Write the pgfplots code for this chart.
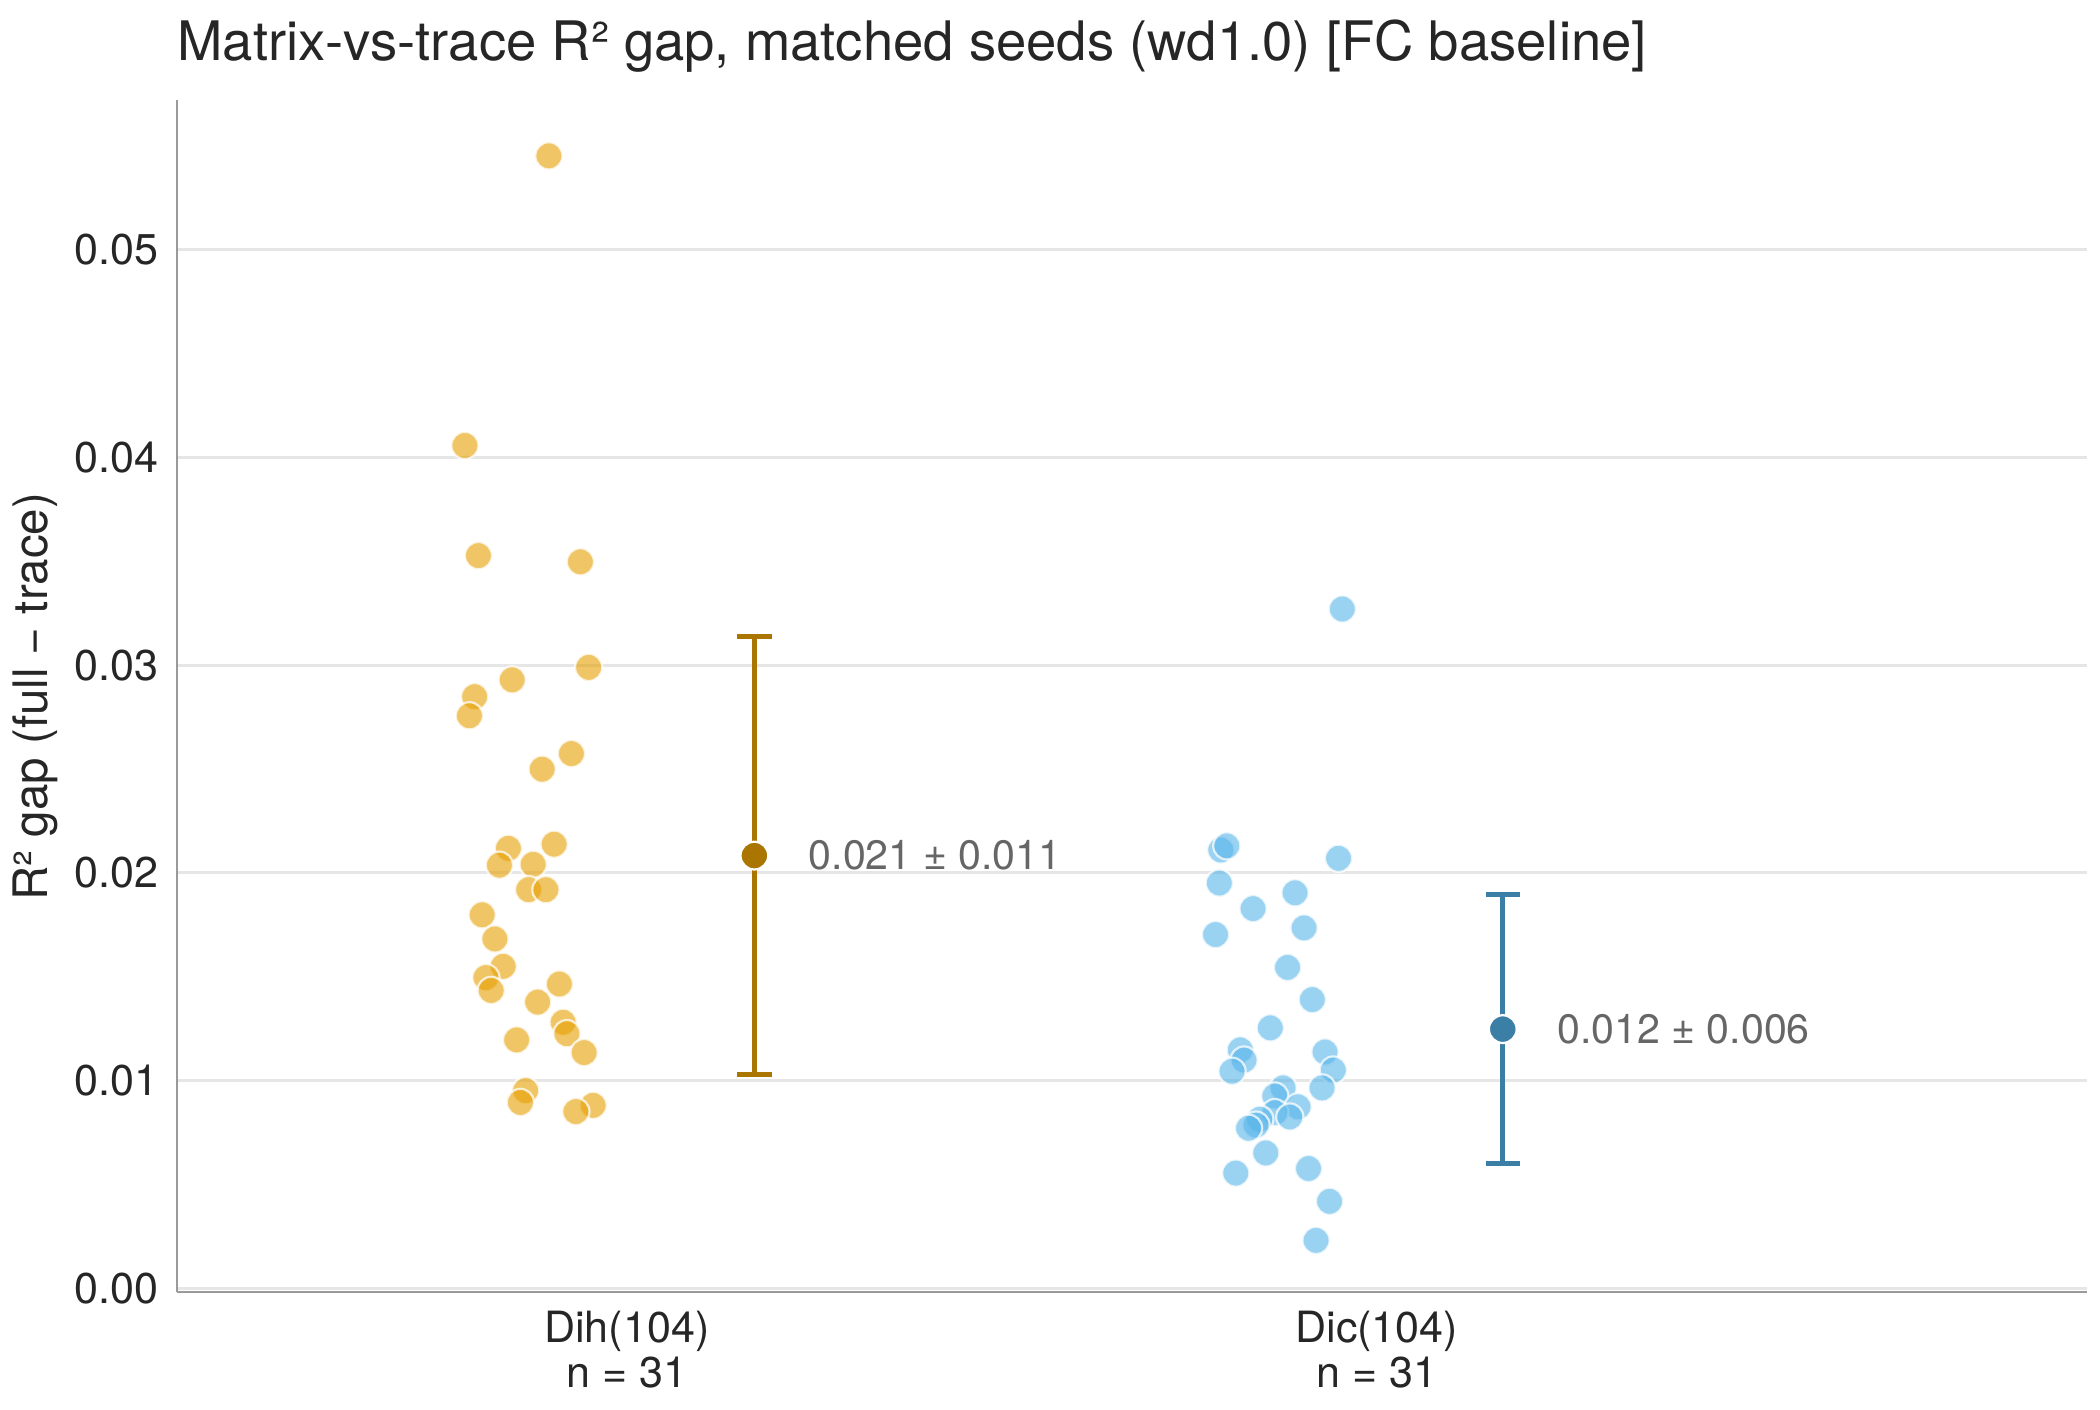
\documentclass[border=0pt]{standalone}
\usepackage{fontspec}
\setmainfont{TeX Gyre Heros}
\usepackage{pgfplots}
\pgfplotsset{compat=1.18}

\definecolor{dihpt}{HTML}{E69F00}
\definecolor{dicpt}{HTML}{56B4E9}
\definecolor{dihmean}{HTML}{AA7500}
\definecolor{dicmean}{HTML}{3B7EA6}
\definecolor{txt}{HTML}{262626}
\definecolor{spine}{HTML}{9A9A9A}
\definecolor{gridc}{HTML}{E6E6E6}
\definecolor{annot}{HTML}{666666}

% per-seed R^2 gap, jittered x positions
\pgfplotstableread{
x y
-0.104 0.05451
-0.216 0.04057
-0.198 0.03527
-0.062 0.03497
-0.051 0.02989
-0.153 0.02929
-0.203 0.02848
-0.210 0.02756
-0.074 0.02574
-0.113 0.02499
-0.097 0.02138
-0.158 0.02118
-0.170 0.02037
-0.125 0.02041
-0.131 0.01919
-0.108 0.01919
-0.193 0.01798
-0.176 0.01682
-0.165 0.01550
-0.188 0.01496
-0.181 0.01434
-0.090 0.01465
-0.119 0.01378
-0.085 0.01281
-0.080 0.01226
-0.147 0.01196
-0.057 0.01135
-0.135 0.00952
-0.142 0.00895
-0.045 0.00881
-0.068 0.00851
}\dihdata

\pgfplotstableread{
x y
0.954 0.03270
0.792 0.02110
0.800 0.02130
0.949 0.02070
0.790 0.01951
0.891 0.01904
0.835 0.01828
0.903 0.01735
0.785 0.01703
0.881 0.01545
0.914 0.01390
0.858 0.01254
0.818 0.01148
0.931 0.01138
0.823 0.01099
0.807 0.01045
0.942 0.01051
0.927 0.00965
0.875 0.00965
0.864 0.00926
0.895 0.00874
0.864 0.00846
0.884 0.00825
0.844 0.00814
0.839 0.00786
0.829 0.00771
0.852 0.00652
0.909 0.00577
0.812 0.00555
0.937 0.00419
0.919 0.00231
}\dicdata

\begin{document}
\begin{tikzpicture}
\useasboundingbox (0,0) rectangle (756pt,507.6pt);
\begin{axis}[
  at={(63.7pt,42.5pt)}, anchor=south west,
  scale only axis,
  width=687.6pt, height=429.1pt,
  xmin=-0.6, xmax=1.947,
  ymin=-0.00017, ymax=0.0572,
  axis lines*=left,
  axis line style={spine, line width=1pt},
  major tick length=0pt,
  xtick={0,1},
  xticklabels={Dih(104)\\n = 31, Dic(104)\\n = 31},
  xticklabel style={align=center, anchor=base, inner sep=0pt, yshift=-34.3pt},
  ytick={0,0.01,0.02,0.03,0.04,0.05},
  yticklabel style={/pgf/number format/fixed, /pgf/number format/fixed zerofill,
    /pgf/number format/precision=2, /pgf/number format/assume math mode=true,
    anchor=east, inner sep=0pt, xshift=-6.4pt},
  scaled y ticks=false,
  ticklabel style={font=\fontsize{15.5}{16}\selectfont, text=txt},
  ymajorgrids,
  grid style={gridc, line width=1.1pt},
  title={Matrix-vs-trace R² gap, matched seeds (wd1.0) [FC baseline]},
  title style={at={(rel axis cs:0,1)}, anchor=base west, inner sep=0pt, yshift=8.3pt,
    font=\fontsize{19.6}{22}\selectfont, text=txt},
  clip=false,
]
\addplot[only marks, mark=*, mark size=4.9pt,
  mark options={fill=dihpt, fill opacity=0.6, draw=white, draw opacity=0.75, line width=0.8pt}]
  table[x=x, y=y] {\dihdata};
\addplot[only marks, mark=*, mark size=4.9pt,
  mark options={fill=dicpt, fill opacity=0.6, draw=white, draw opacity=0.75, line width=0.8pt}]
  table[x=x, y=y] {\dicdata};

% group means with one standard deviation
\addplot[only marks, mark=*, mark size=5pt,
  mark options={fill=dihmean, draw=white, line width=0.8pt},
  error bars/.cd, y dir=both, y explicit,
  error bar style={dihmean, line width=1.8pt},
  error mark options={rotate=90, mark size=6.2pt, line width=1.8pt, dihmean}]
  coordinates {(0.17,0.02083) +- (0,0.01054)};
\addplot[only marks, mark=*, mark size=5pt,
  mark options={fill=dicmean, draw=white, line width=0.8pt},
  error bars/.cd, y dir=both, y explicit,
  error bar style={dicmean, line width=1.8pt},
  error mark options={rotate=90, mark size=6.2pt, line width=1.8pt, dicmean}]
  coordinates {(1.168,0.01248) +- (0,0.00646)};

\node[anchor=west, inner sep=0pt, xshift=19.4pt, text=annot, font=\fontsize{14.8}{16}\selectfont]
  at (axis cs:0.17,0.02083) {0.021 ± 0.011};
\node[anchor=west, inner sep=0pt, xshift=19.4pt, text=annot, font=\fontsize{14.8}{16}\selectfont]
  at (axis cs:1.168,0.01248) {0.012 ± 0.006};
\end{axis}
\node[rotate=90, anchor=base, inner sep=0pt, text=txt, font=\fontsize{17.1}{19}\selectfont]
  at (17pt,256.8pt) {R² gap (full − trace)};
\end{tikzpicture}
\end{document}
